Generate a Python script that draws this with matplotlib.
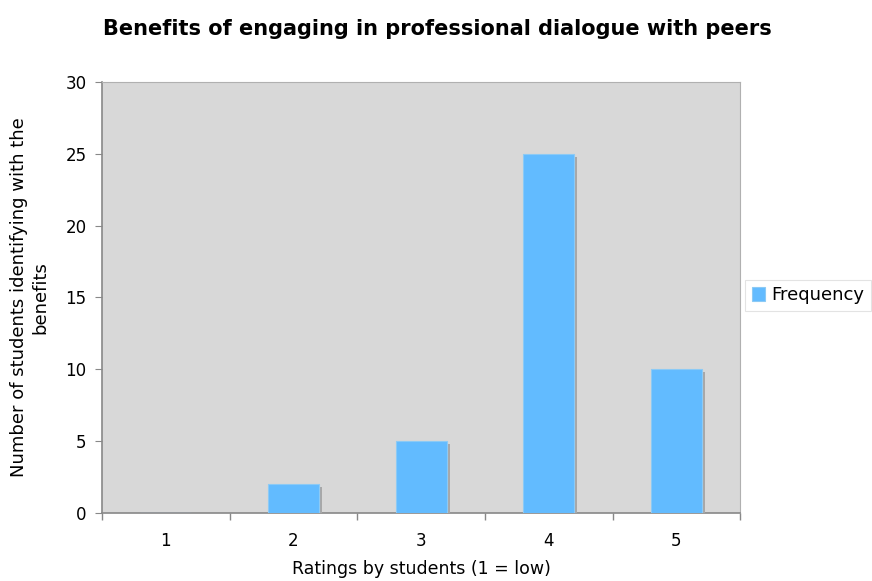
import matplotlib.pyplot as plt
import matplotlib.patheffects as pe
import matplotlib.patches as mpatches
import numpy as np

# Data
ratings = ["1", "2", "3", "4", "5"]
frequency = [0, 2, 5, 25, 10]

fig = plt.figure(figsize=(8.72, 5.81), dpi=100)
ax = fig.add_axes([0.117, 0.117, 0.732, 0.742])
ax.set_facecolor('#d8d8d8')

x = np.arange(len(ratings))
bars = ax.bar(x, frequency, width=0.4, color='#62bbff', edgecolor='#8ccaf5',
              linewidth=0.8, zorder=3)
for b in bars:
    b.set_path_effects([pe.SimplePatchShadow(offset=(2.2, -2.2), shadow_rgbFace='#a8a8a8', alpha=1.0),
                        pe.Normal()])

ax.set_xlim(-0.5, len(ratings) - 0.5)
ax.set_ylim(0, 30)
ax.set_yticks(range(0, 31, 5))
ax.set_xticks(x)
ax.set_xticklabels(ratings)
ax.set_xticks(np.arange(-0.5, len(ratings)), minor=True)
ax.tick_params(axis='x', which='major', length=0, pad=14, labelsize=12)
ax.tick_params(axis='x', which='minor', length=5, color='#888888', width=1)
ax.tick_params(axis='y', length=5, color='#888888', labelsize=12, pad=6)

for s in ['top', 'right']:
    ax.spines[s].set_color('#b0b0b0')
for s in ['left', 'bottom']:
    ax.spines[s].set_color('#888888')
    ax.spines[s].set_linewidth(1.2)

ax.set_xlabel("Ratings by students (1 = low)", fontsize=12.5, labelpad=7)
ax.set_ylabel("Number of students identifying with the\nbenefits", fontsize=13, labelpad=12)
fig.suptitle("Benefits of engaging in professional dialogue with peers",
             fontsize=15, fontweight='bold', x=0.502, y=0.967)

handle = mpatches.Patch(facecolor='#62bbff', edgecolor='#8ccaf5', linewidth=0.8)
leg = ax.legend([handle], ["Frequency"], loc='center left', bbox_to_anchor=(1.008, 0.505),
                fontsize=13, frameon=True, fancybox=False, handlelength=0.75,
                handleheight=0.75, handletextpad=0.35, borderpad=0.35, borderaxespad=0)
leg.get_frame().set_edgecolor('#dddddd')
leg.get_frame().set_linewidth(0.8)

plt.savefig('out.png', dpi=100)
